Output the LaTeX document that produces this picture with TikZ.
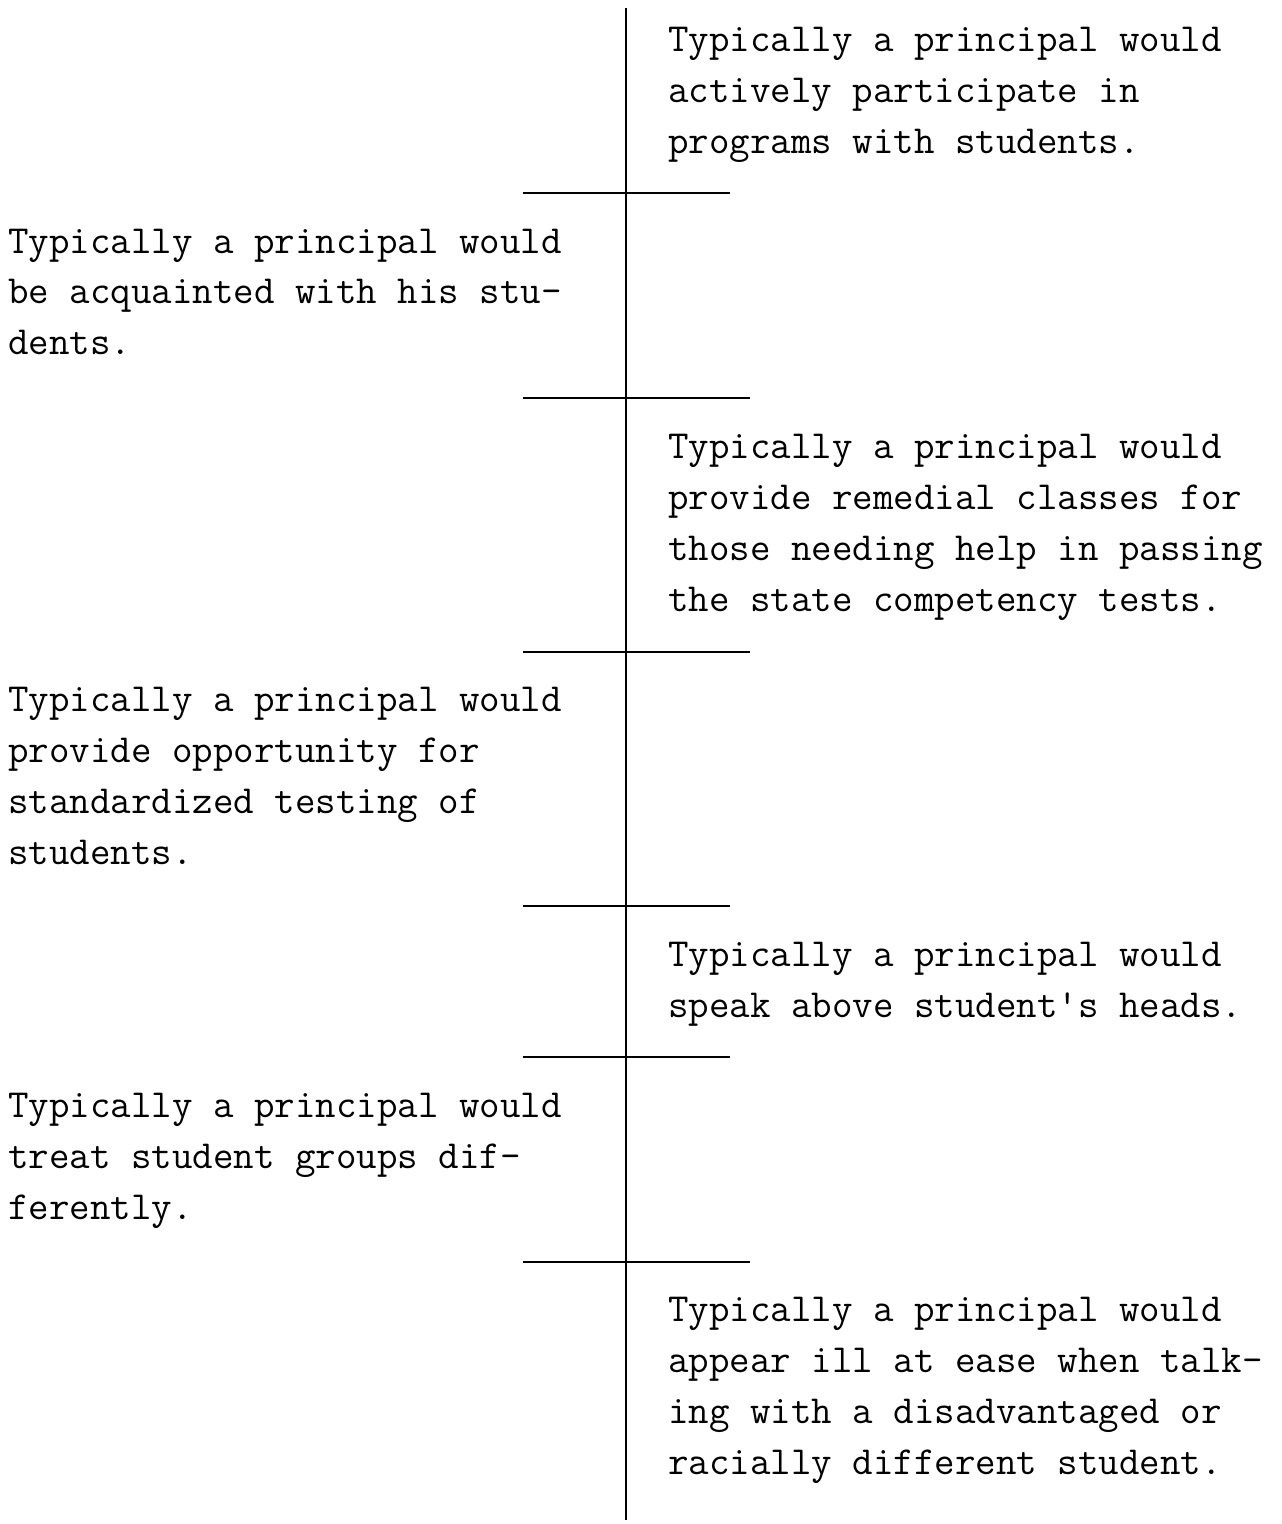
\documentclass[tikz,border=0pt]{standalone}
\usepackage{fontspec}
\begin{document}
\begin{tikzpicture}[x=0.5pt,y=-0.5pt,
  item/.style={anchor=base west,inner sep=0pt,align=left,
    font={\ttfamily\fontsize{19.9}{25.5}\selectfont\addfontfeature{FakeBold=1}}},
  rule/.style={line width=1pt,black}]
\useasboundingbox (0,0) rectangle (1281,1524);
% central vertical axis
\coordinate (top) at (626,8);
\coordinate (bot) at (626,1520);
\draw[rule,line width=0.9pt] (top) -- (bot);
% horizontal separators
\foreach \n/\y/\r in {s1/193/730,s2/398/750,s3/652/750,s4/906/730,s5/1057/730,s6/1262/750}{
  \coordinate (\n a) at (523,\y);
  \coordinate (\n b) at (\r,\y);
  \draw[rule] (\n a) -- (\n b);
}
% statements, alternating right and left of the axis
% (each node is placed by the baseline of its last line)
\node[item] (t1) at (668,154) {Typically a principal would\\actively participate in\\programs with students.};
\node[item] (t2) at (8,355) {Typically a principal would\\be acquainted with his stu-\\dents.};
\node[item] (t3) at (668,611) {Typically a principal would\\provide remedial classes for\\those needing help in passing\\the state competency tests.};
\node[item] (t4) at (8,864) {Typically a principal would\\provide opportunity for\\standardized testing of\\students.};
\node[item] (t5) at (668,1017) {Typically a principal would\\speak above student's heads.};
\node[item] (t6) at (8,1219) {Typically a principal would\\treat student groups dif-\\ferently.};
\node[item] (t7) at (668,1474) {Typically a principal would\\appear ill at ease when talk-\\ing with a disadvantaged or\\racially different student.};
\end{tikzpicture}
\end{document}
